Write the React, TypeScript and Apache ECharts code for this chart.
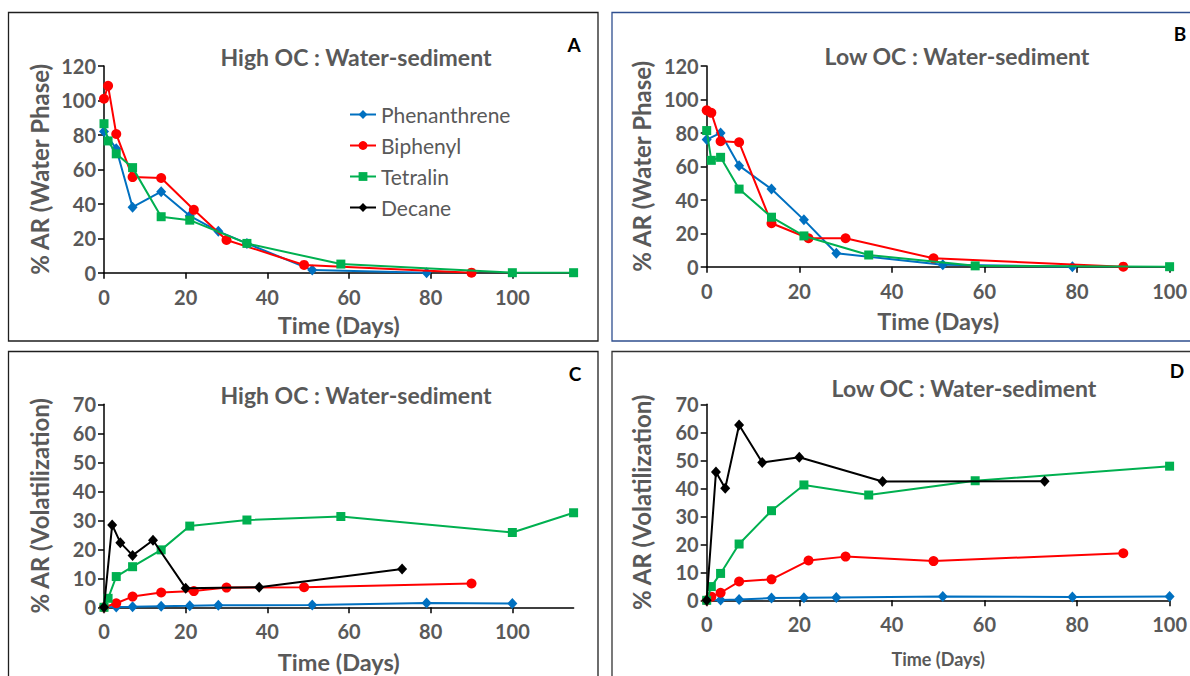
import React, { useEffect, useRef } from "react";
import * as echarts from "echarts";

// ---- Data: [day, %AR] ----
const SERIES_NAMES = ["Phenanthrene", "Biphenyl", "Tetralin", "Decane"];
const COLORS = ["#0070C0", "#FF0000", "#00B050", "#000000"];
const SYMBOLS = ["diamond", "circle", "rect", "diamond"];

const phenA = [[0, 82], [3, 72], [7, 38], [14, 47], [21, 33], [28, 24], [35, 17], [51, 1.5], [79, 0]];
const bipA = [[0, 101], [1, 108.5], [3, 80.5], [7, 55.5], [14, 55], [22, 36.5], [30, 19], [49, 4.5], [90, 0]];
const tetA = [[0, 86.5], [1, 76.5], [3, 69], [7, 61], [14, 32.5], [21, 30.5], [35, 17], [58, 5], [100, 0], [115, 0]];
const decA: number[][] = [];

const phenB = [[0, 76], [3, 80], [7, 60.4], [14, 46.4], [21, 28], [28, 8], [51, 1.2], [79, 0]];
const bipB = [[0, 93.5], [1, 92], [3, 75], [7, 74.4], [14, 26], [22, 17], [30, 17], [49, 5], [90, 0]];
const tetB = [[0, 81.4], [1, 63.6], [3, 65.4], [7, 46.4], [14, 29.6], [21, 18.4], [35, 7], [58, 0.5], [100, 0]];

const phenC = [[0, 0], [3, 0.1], [7, 0.2], [14, 0.4], [21, 0.5], [28, 0.7], [51, 0.8], [79, 1.5], [100, 1.3]];
const bipC = [[0, 0], [3, 1.4], [7, 3.7], [14, 5.1], [22, 5.6], [30, 6.8], [49, 6.9], [90, 8.2]];
const tetC = [[0, 0], [1, 3.1], [3, 10.6], [7, 14], [14, 19.8], [21, 28], [35, 30.1], [58, 31.3], [100, 25.8], [115, 32.6]];
const decC = [[0, 0], [2, 28.4], [4, 22.3], [7, 17.9], [12, 23.1], [20, 6.6], [38, 6.9], [73, 13.2]];

const phenD = [[0, 0], [3, 0.1], [7, 0.3], [14, 0.8], [21, 0.9], [28, 1.0], [51, 1.4], [79, 1.2], [100, 1.4]];
const bipD = [[0, 0], [1, 1.3], [3, 2.7], [7, 6.7], [14, 7.5], [22, 14.2], [30, 15.6], [49, 14.0], [90, 16.8]];
const tetD = [[0, 0], [1, 4.9], [3, 9.6], [7, 20.1], [14, 32], [21, 41.2], [35, 37.6], [58, 42.7], [100, 47.9]];
const decD = [[0, 0], [2, 45.8], [4, 40], [7, 62.6], [12, 49.2], [20, 51.1], [38, 42.4], [73, 42.5]];

const X_TICKS = [0, 20, 40, 60, 80, 100];
const TITLES = ["High OC : Water-sediment", "Low OC : Water-sediment", "High OC : Water-sediment", "Low OC : Water-sediment"];
const LETTERS = ["A", "B", "C", "D"];
const Y_NAMES = ["% AR (Water Phase)", "% AR (Water Phase)", "% AR (Volatilization)", "% AR (Volatilization)"];
const X_NAME = "Time (Days)";

const FONT = "Lato, 'Open Sans', sans-serif";
const GRAY = "#595959";

export default function App() {
  const ref = useRef<HTMLDivElement>(null);

  useEffect(() => {
    if (!ref.current) return;
    const chart = echarts.init(ref.current, null, { renderer: "svg" });

    const grids = [
      { left: 104, top: 66, width: 469.6, height: 206.7 },
      { left: 706.7, top: 66, width: 469, height: 200.7 },
      { left: 104, top: 404.3, width: 469.6, height: 203 },
      { left: 706.7, top: 404.3, width: 469, height: 196 },
    ];
    const xMax = [115, 100, 115, 100];
    const yMax = [120, 120, 70, 70];
    const yInt = [20, 20, 10, 10];
    const xNameGap = [40, 42, 43, 50];
    const xNameSize = [23.5, 23.5, 23.5, 18];

    const axisLine = { show: true, onZero: false, lineStyle: { color: "#000", width: 1.5 } };
    const axisTick = { show: true, inside: false, length: 6, lineStyle: { color: "#000", width: 1.5 } };
    const labelStyle = { color: GRAY, fontFamily: FONT, fontWeight: "bold" as const, fontSize: 20 };

    const xAxis = grids.map((_, i) => ({
      type: "value",
      gridIndex: i,
      min: 0,
      max: xMax[i],
      interval: 20,
      name: X_NAME,
      nameLocation: "middle",
      nameGap: xNameGap[i],
      nameTextStyle: { color: GRAY, fontFamily: FONT, fontWeight: "bold", fontSize: xNameSize[i] },
      axisLine,
      axisTick: { ...axisTick, customValues: X_TICKS },
      axisLabel: {
        ...labelStyle,
        margin: 14,
        formatter: (v: number) => (v > 100 ? "" : String(v)),
      },
      splitLine: { show: false },
    }));

    const yAxis = grids.map((_, i) => ({
      type: "value",
      gridIndex: i,
      min: 0,
      max: yMax[i],
      interval: yInt[i],
      name: Y_NAMES[i],
      nameLocation: "middle",
      nameGap: 53,
      nameRotate: 90,
      nameTextStyle: { color: GRAY, fontFamily: FONT, fontWeight: "bold", fontSize: 24 },
      axisLine,
      axisTick,
      axisLabel: { ...labelStyle, margin: 8 },
      splitLine: { show: false },
    }));

    const panelData = [
      [phenA, bipA, tetA, decA],
      [phenB, bipB, tetB, null],
      [phenC, bipC, tetC, decC],
      [phenD, bipD, tetD, decD],
    ];

    const series: any[] = [];
    panelData.forEach((sets, p) => {
      sets.forEach((d, s) => {
        if (d === null) return;
        series.push({
          type: "line",
          name: SERIES_NAMES[s],
          xAxisIndex: p,
          yAxisIndex: p,
          data: d,
          symbol: SYMBOLS[s],
          symbolSize: s === 1 ? 10 : s === 2 ? 9 : [10, 11],
          showAllSymbol: true,
          color: COLORS[s],
          lineStyle: { color: COLORS[s], width: 2 },
          itemStyle: { color: COLORS[s] },
          z: 2 + s,
        });
      });
    });

    const titlePos = [
      [356, 57],
      [957, 56],
      [356, 395],
      [964, 388],
    ];
    const letterPos = [
      [574, 44],
      [1180, 33],
      [575, 373],
      [1177, 370],
    ];

    const graphic: any[] = [
      { type: "rect", shape: { x: 8.5, y: 12.5, width: 589.5, height: 328.5 }, style: { fill: "none", stroke: "#1f1f1f", lineWidth: 1.3 } },
      { type: "rect", shape: { x: 612, y: 12.5, width: 600, height: 328.5 }, style: { fill: "none", stroke: "#2F4F8F", lineWidth: 1.3 } },
      { type: "rect", shape: { x: 8.5, y: 351.5, width: 589.5, height: 400 }, style: { fill: "none", stroke: "#1f1f1f", lineWidth: 1.3 } },
      { type: "rect", shape: { x: 612, y: 351.5, width: 600, height: 400 }, style: { fill: "none", stroke: "#333333", lineWidth: 1.3 } },
    ];
    TITLES.forEach((t, i) => {
      graphic.push({
        type: "text",
        x: titlePos[i][0],
        y: titlePos[i][1],
        style: { text: t, fill: GRAY, font: `bold 23px ${FONT}`, textAlign: "center", textVerticalAlign: "middle" },
      });
      graphic.push({
        type: "text",
        x: letterPos[i][0],
        y: letterPos[i][1],
        style: { text: LETTERS[i], fill: "#000", font: `bold 19px ${FONT}`, textAlign: "center", textVerticalAlign: "middle" },
      });
    });

    chart.setOption({
      animation: false,
      backgroundColor: "#ffffff",
      grid: grids.map((g) => ({ ...g, containLabel: false })),
      xAxis,
      yAxis,
      legend: {
        orient: "vertical",
        left: 344,
        top: 99,
        data: SERIES_NAMES,
        itemWidth: 26,
        itemHeight: 11,
        itemGap: 10,
        textStyle: { color: GRAY, fontFamily: FONT, fontSize: 21, lineHeight: 20 },
        selectedMode: false,
      },
      graphic,
      series,
    });

    return () => chart.dispose();
  }, []);

  return <div ref={ref} style={{ position: "absolute", left: 0, top: 0, width: 1190, height: 676 }} />;
}
